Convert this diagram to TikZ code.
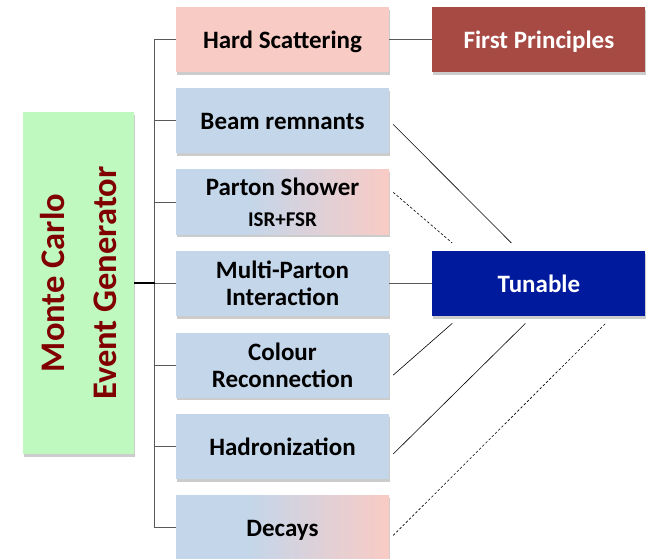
\documentclass[tikz,border=0pt]{standalone}
\usepackage{fontspec}
\setmainfont{Carlito}
\usetikzlibrary{positioning, shadows}

\definecolor{boxblue}{RGB}{196,214,234}
\definecolor{boxpink}{RGB}{249,203,197}
\definecolor{principred}{RGB}{168,74,68}
\definecolor{tuneblue}{RGB}{0,26,158}
\definecolor{gengreen}{RGB}{192,249,192}
\definecolor{gentext}{RGB}{128,0,0}
\pgfdeclarehorizontalshading{bluetopink}{100bp}{color(0bp)=(boxblue); color(42bp)=(boxblue); color(75bp)=(boxpink); color(100bp)=(boxpink)}

\begin{document}
\begin{tikzpicture}[x=1pt, y=-1pt,
    % boxes of the generator chain
    stage/.style={minimum width=213pt, minimum height=65pt, inner sep=2pt, align=center,
        font=\fontsize{25}{27}\selectfont\bfseries, text depth=0pt,
        drop shadow={shadow xshift=0.5pt, shadow yshift=-2.5pt, fill=black, opacity=0.2}},
    bstage/.style={stage, fill=boxblue},
    pstage/.style={stage, fill=boxpink},
    mstage/.style={stage, shading=bluetopink},
    tag/.style={stage, text=white},
    branch/.style={draw=black!65, line width=0.9pt},
    link/.style={draw=black, line width=0.6pt},
    maybe/.style={link, dash pattern=on 2.5pt off 2pt}]

\useasboundingbox (0,0) rectangle (648,558);

% generator box (text turned up the page)
\node[rotate=90, fill=gengreen, minimum width=342pt, minimum height=111pt, align=center,
    text=gentext, font=\fontsize{34.5}{52}\selectfont\bfseries, text depth=0pt,
    drop shadow={shadow xshift=0.5pt, shadow yshift=-2.5pt, fill=black, opacity=0.2}]
    (gen) at (78.5,283) {Monte Carlo\\Event Generator};

% chain of stages
\node[pstage] (hard) at (282.5,39.5) {Hard Scattering};
\node[bstage, below=16pt of hard] (beam) {Beam remnants};
\node[mstage, below=16pt of beam] (shower) {Parton Shower\\[4pt]{\fontsize{21}{24}\selectfont ISR+FSR}};
\node[bstage, below=16pt of shower] (mpi) {Multi-Parton\\Interaction};
\node[bstage, below=16pt of mpi] (colour) {Colour\\Reconnection};
\node[bstage, below=16pt of colour] (hadron) {Hadronization};
\node[mstage, below=16pt of hadron] (decays) {Decays};

% right column
\node[tag, fill=principred, right=43pt of hard] (first) {First Principles};
\node[tag, fill=tuneblue, right=43pt of mpi] (tune) {Tunable};

% tree on the left
\draw[branch] (hard.west) -- ++(-21pt,0) |- (decays.west);
\foreach \s in {beam,shower,mpi,colour,hadron}
    \draw[branch] (\s.west) -- ++(-21pt,0);
\draw[line width=1.5pt] (gen.south) -- ++(21pt,0);

\draw[branch] (hard) -- (first);
\draw[branch] (mpi) -- (tune);

% stages to the tunable box
\draw[link] ([xshift=4pt,yshift=-3.5pt]beam.east) -- ([xshift=-27.5pt,yshift=8pt]tune.north);
\draw[maybe] ([xshift=4pt,yshift=10pt]shower.east) -- ([xshift=20pt,yshift=8pt]tune.north west);
\draw[link] ([xshift=4pt,yshift=-10pt]colour.east) -- ([xshift=20pt,yshift=-7pt]tune.south west);
\draw[link] ([xshift=4pt,yshift=-7.5pt]hadron.east) -- ([xshift=-13.5pt,yshift=-7pt]tune.south);
\draw[maybe] ([xshift=4pt,yshift=-7.5pt]decays.east) -- ([xshift=-40pt,yshift=-7pt]tune.south east);

\end{tikzpicture}
\end{document}
